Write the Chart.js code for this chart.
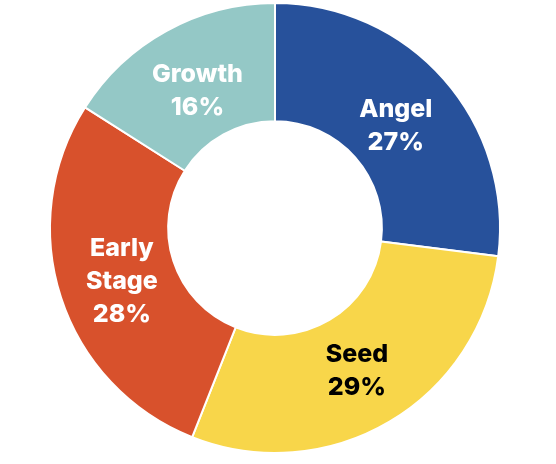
<!DOCTYPE html>
<html>
<head>
<meta charset="utf-8">
<script src="https://cdn.jsdelivr.net/npm/chart.js@4"></script>
<style>
  html, body { margin: 0; padding: 0; background: #ffffff; }
  #wrap { width: 556px; height: 464px; }
</style>
</head>
<body>
<div id="wrap"><canvas id="chart" width="556" height="464"></canvas></div>
<script>
// datos del grafico
const etiquetas = [['Angel'], ['Seed'], ['Early', 'Stage'], ['Growth']];
const valores = [27, 29, 28, 16];
const colores = ['#27519b', '#f8d64a', '#d8512c', '#94c8c6'];
const coloresTexto = ['#ffffff', '#000000', '#ffffff', '#ffffff'];

// plugin para escribir etiqueta y porcentaje dentro de cada segmento
const etiquetasPlugin = {
    id: 'etiquetas',
    afterDatasetsDraw(chart) {
        const ctx = chart.ctx;
        const meta = chart.getDatasetMeta(0);
        ctx.save();
        ctx.font = '800 25px Inter, "Open Sans", sans-serif';
        ctx.textAlign = 'center';
        ctx.textBaseline = 'middle';
        meta.data.forEach((arc, i) => {
            const ang = (arc.startAngle + arc.endAngle) / 2;
            const r = 0.97 * (arc.innerRadius + arc.outerRadius) / 2;
            const px = arc.x + Math.cos(ang) * r;
            const py = arc.y + Math.sin(ang) * r + 4;
            const lineas = etiquetas[i].concat([valores[i] + '%']);
            const alto = 33;
            const y0 = py - (lineas.length - 1) * alto / 2;
            ctx.fillStyle = coloresTexto[i];
            lineas.forEach((t, j) => ctx.fillText(t, px, y0 + j * alto));
        });
        ctx.restore();
    }
};

new Chart(document.getElementById('chart').getContext('2d'), {
    type: 'doughnut',
    data: {
        labels: etiquetas.map(e => e.join(' ')),
        datasets: [{
            data: valores,
            backgroundColor: colores,
            borderColor: '#ffffff',
            borderWidth: 2
        }]
    },
    options: {
        responsive: false,
        animation: false,
        cutout: '47.5%',
        layout: { padding: { left: 49, right: 55, top: 2, bottom: 10 } },
        plugins: {
            legend: { display: false },
            tooltip: { enabled: false }
        }
    },
    plugins: [etiquetasPlugin]
});
</script>
</body>
</html>
